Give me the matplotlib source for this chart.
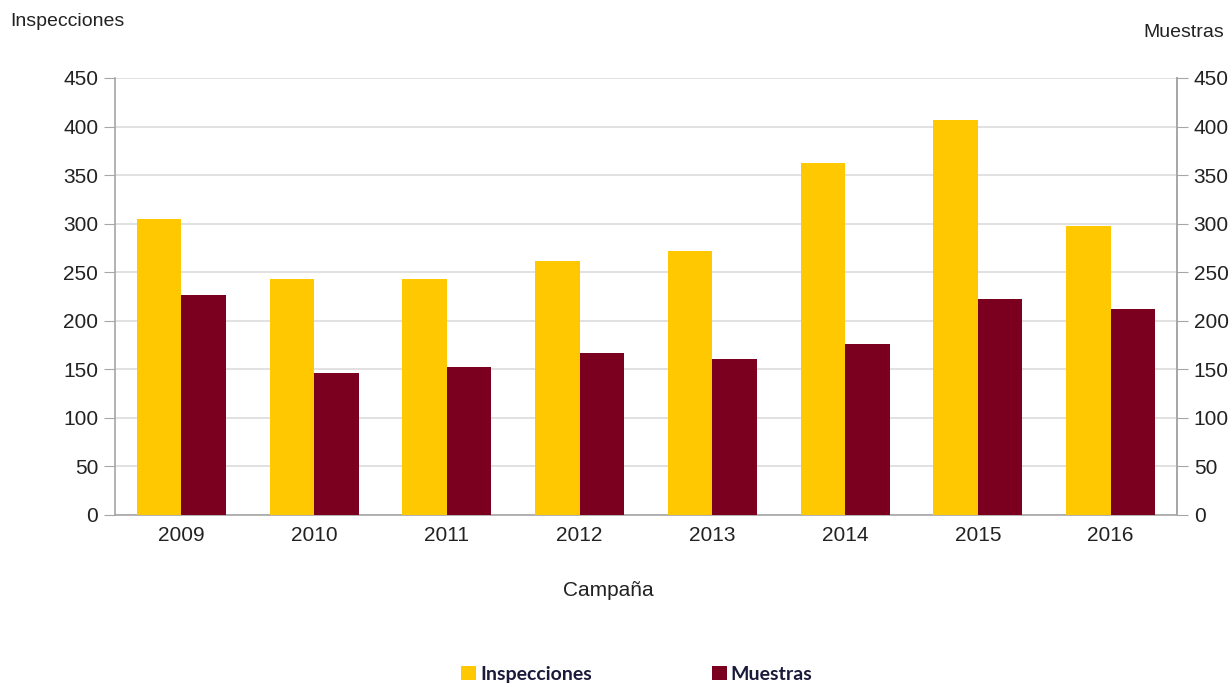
import numpy as np
import matplotlib.pyplot as plt

# Datos
campanas = ['2009', '2010', '2011', '2012', '2013', '2014', '2015', '2016']
inspecciones = [305, 243, 243, 262, 272, 362, 407, 298]
muestras = [227, 146, 152, 167, 161, 176, 222, 212]

amarillo = '#ffc800'
granate = '#7b0020'
gris = '#a6a6a6'

plt.rcParams['font.family'] = ['Liberation Sans', 'DejaVu Sans']

fig = plt.figure(figsize=(12.32, 6.87), dpi=100)
ax = fig.add_axes([0.0933, 0.2504, 0.8621, 0.6361])

x = np.arange(len(campanas))
ancho = 0.335
ax.bar(x - ancho / 2, inspecciones, ancho, color=amarillo, label='Inspecciones', zorder=3)
ax.bar(x + ancho / 2, muestras, ancho, color=granate, label='Muestras', zorder=3)

ax.set_xlim(-0.5, len(campanas) - 0.5)
ax.set_ylim(0, 450)
ax.set_yticks(np.arange(0, 451, 50))
ax.set_xticks(x)
ax.set_xticklabels(campanas)
ax.grid(axis='y', color='#dcdcdc', linewidth=1.2, zorder=0)

ax.spines['top'].set_visible(False)
for s in ['left', 'bottom', 'right']:
    ax.spines[s].set_color(gris)
    ax.spines[s].set_linewidth(1.2)

ax.tick_params(axis='y', length=8, color=gris, labelsize=15, labelcolor='#222222', pad=4)
ax.tick_params(axis='x', length=0, labelsize=15, labelcolor='#222222', pad=8)

# eje derecho (Muestras)
ax2 = ax.twinx()
ax2.set_ylim(0, 450)
ax2.set_yticks(np.arange(0, 451, 50))
for s in ['top', 'left', 'bottom']:
    ax2.spines[s].set_visible(False)
ax2.spines['right'].set_color(gris)
ax2.spines['right'].set_linewidth(1.2)
ax2.tick_params(axis='y', length=8, color=gris, labelsize=15, labelcolor='#222222', pad=4)

fig.text(0.494, 0.14, 'Campaña', fontsize=15, color='#222222', ha='center', va='center')
fig.text(0.008, 0.968, 'Inspecciones', fontsize=14, color='#222222', va='center', ha='left')
fig.text(0.994, 0.952, 'Muestras', fontsize=14, color='#222222', va='center', ha='right')

fig.legend(loc='center', bbox_to_anchor=(0.517, 0.018), ncol=2, frameon=False,
           handlelength=0.75, handleheight=0.75, handletextpad=0.2, columnspacing=6.2,
           prop={'family': 'Lato', 'weight': 'bold', 'size': 14}, labelcolor='#1a1a3a')

fig.savefig('out.png', dpi=100)
